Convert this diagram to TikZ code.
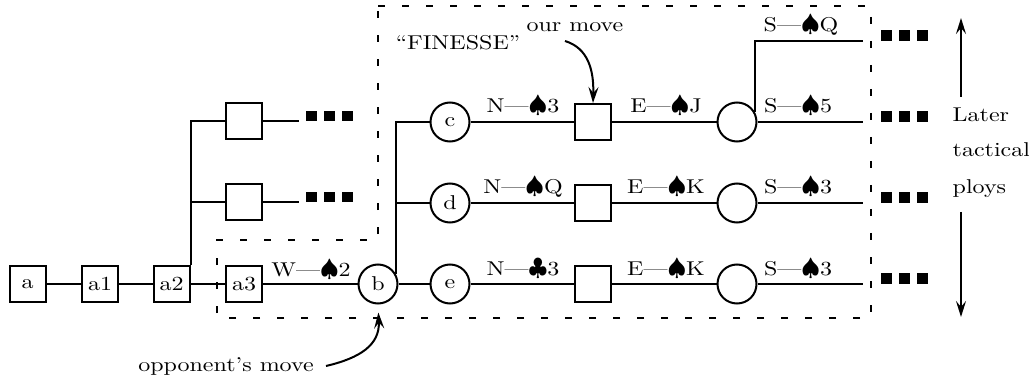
\documentclass[tikz,border=0pt]{standalone}
\usepackage{amsmath}
\usepackage{fontspec}
\setmainfont{lmroman10-regular.otf}[FakeStretch=1.2]
\usepackage{tikz}
\usetikzlibrary{arrows.meta}

\newcommand{\spd}{{\large$\spadesuit$}}
\newcommand{\clb}{{\large$\clubsuit$}}
\newcommand{\blk}{\rule{5.3pt}{5.3pt}}
\newcommand{\moreblk}{\blk\hspace{3.8pt}\blk\hspace{3.8pt}\blk}

\begin{document}
\begin{tikzpicture}[x=0.5pt, y=-0.5pt, line width=1pt,
    sqr/.style={draw, minimum size=18pt, inner sep=0pt},
    circ/.style={draw, circle, minimum size=19.5pt, inner sep=0pt},
    lbl/.style={anchor=base},
    more/.style={anchor=south west, inner sep=0pt},
    arr/.style={-{Stealth[length=8pt,width=5pt,inset=3pt]}},
    hatch/.style={dash pattern=on 3.5pt off 8.5pt}]
    \useasboundingbox (0,0) rectangle (1029,385);

    % main line
    \node[sqr] (a) at (27.5,284) {a};
    \node[sqr] (a1) at (100,284) {a1};
    \node[sqr] (a2) at (171.5,284) {a2};
    \node[sqr] (a3) at (244,284) {a3};
    \node[circ] (b) at (378,284) {b};

    \draw (a) -- (a1);
    \draw (a1) -- (a2);
    \draw (a2) -- (a3);
    \draw (a3) -- (b);

    % other branches from a2
    \node[sqr] (u1) at (243.5,121.5) {};
    \node[sqr] (u2) at (243.5,202.5) {};
    \coordinate (u1end) at (299,121.5);
    \coordinate (u2end) at (299,202.5);

    \draw (a2.north east) |- (u1.west);
    \draw (a2.east |- u2.west) -- (u2.west);
    \draw (u1) -- (u1end);
    \draw (u2) -- (u2end);

    \node[more] (u1more) at (305,122.5) {\moreblk};
    \node[more] (u2more) at (305,203.5) {\moreblk};

    % rows c, d, e
    \node[circ] (c) at (450,122) {c};
    \node[sqr] (c2) at (593,122) {};
    \node[circ] (c3) at (737,122) {};
    \node[circ] (d) at (450,203) {d};
    \node[sqr] (d2) at (593,203) {};
    \node[circ] (d3) at (737,203) {};
    \node[circ] (e) at (450,284) {e};
    \node[sqr] (e2) at (593,284) {};
    \node[circ] (e3) at (737,284) {};

    \coordinate (qend) at (863,41);
    \coordinate (cend) at (863,122);
    \coordinate (dend) at (863,203);
    \coordinate (eend) at (863,284);

    \draw (b.30) |- (c.west);
    \draw (b.30 |- d.west) -- (d.west);
    \draw (b) -- (e);

    \draw (c) -- (c2);
    \draw (c2) -- (c3);
    \draw (c3) -- (cend);
    \draw (c3.30) |- (qend);
    \draw (d) -- (d2);
    \draw (d2) -- (d3);
    \draw (d3) -- (dend);
    \draw (e) -- (e2);
    \draw (e2) -- (e3);
    \draw (e3) -- (eend);

    \node[more] (qmore) at (880,42) {\moreblk};
    \node[more] (cmore) at (880,123) {\moreblk};
    \node[more] (dmore) at (880,204) {\moreblk};
    \node[more] (emore) at (880,285) {\moreblk};

    % card labels
    \node[lbl] (w2) at (311,277) {W---\spd2};
    \node[lbl] (n3) at (523,113) {N---\spd3};
    \node[lbl] (ej) at (666,113) {E---\spd J};
    \node[lbl] (s5) at (798,113) {S---\spd5};
    \node[lbl] (sq) at (801,32) {S---\spd Q};
    \node[lbl] (nq) at (523,194) {N---\spd Q};
    \node[lbl] (ek) at (666,194) {E---\spd K};
    \node[lbl] (s3) at (798,194) {S---\spd3};
    \node[lbl] (nc3) at (523,275) {N---\clb3};
    \node[lbl] (ek2) at (666,275) {E---\spd K};
    \node[lbl] (s32) at (798,275) {S---\spd3};

    % dashed region
    \draw[hatch] (378,6) -- (871,6) -- (871,318) -- (217,318) -- (217,240) -- (378,240) -- cycle;

    % notes
    \node[lbl] (finesse) at (458,50) {``FINESSE''};
    \node[lbl] (ourmove) at (575,32) {our move};
    \node[lbl] (opp) at (226,371) {opponent's move};
    \coordinate (om) at (565,41);
    \coordinate (op) at (326,366);
    \draw[arr] (om) .. controls (588,48) and (594,70) .. (c2.north);
    \draw[arr, shorten >=4pt] (op) .. controls (360,358) and (380,345) .. (b.south);

    \node[anchor=base west] (later) at (945,122) {Later};
    \node[anchor=base west] (tactical) at (945,157) {tactical};
    \node[anchor=base west] (ploys) at (945,193) {ploys};
    \coordinate (uptop) at (961,18);
    \coordinate (upbot) at (961,97);
    \coordinate (dntop) at (961,212);
    \coordinate (dnbot) at (961,317);
    \draw[arr] (upbot) -- (uptop);
    \draw[arr] (dntop) -- (dnbot);
\end{tikzpicture}
\end{document}
